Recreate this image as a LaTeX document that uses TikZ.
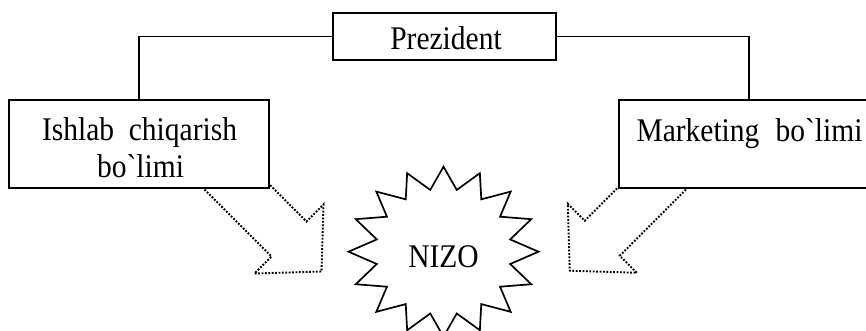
\documentclass[tikz,border=0pt]{standalone}
\usepackage{fontspec}
\setmainfont{Liberation Serif}
% labels are set a little taller than their natural shape
\newcommand{\tall}[1]{\scalebox{1}[1.12]{#1}}
\begin{document}
\begin{tikzpicture}[x=1pt,y=-1pt,
  lbl/.style={font=\fontsize{29.5}{37}\selectfont, inner sep=0pt, anchor=base},
  unit/.style={draw, line width=1.9pt, fill=white, inner sep=0pt},
  link/.style={line width=1.7pt},
  flow/.style={line width=1.9pt, dash pattern=on 1.8pt off 1.6pt, line join=miter},
  burst/.style={line width=1.7pt, line join=miter}]
\clip (0,0) rectangle (866,330);
\fill[white] (0,0) rectangle (866,330);

% dotted block arrows (tails start under the department boxes)
\draw[flow] (192.5,177.5) -- (271.5,256.5) -- (254.5,273.5) -- (321.5,271.5)
  -- (323.5,204.5) -- (306.5,221.5) -- (227.5,142.5);
\draw[flow] (662.75,142.75) -- (584.75,220.75) -- (567.75,203.75) -- (569.75,270.75)
  -- (636.75,272.75) -- (619.75,255.75) -- (697.75,177.75);

% boxes
\node[unit, minimum width=223, minimum height=47] (pres) at (444.5,36.5) {};
\node[unit, minimum width=260, minimum height=88] (prod) at (139,144) {};
\node[unit, minimum width=260, minimum height=88] (mkt) at (749,144) {};

\node[lbl] (prestxt) at (446,49) {\tall{Prezident}};
\node[lbl] (prodtxt1) at (139.5,140) {\tall{Ishlab\hspace{0.5em}chiqarish}};
\node[lbl] (prodtxt2) at (140.5,177) {\tall{bo\textasciigrave limi}};
\node[lbl] (mkttxt) at (749.5,141) {\tall{Marketing\hspace{0.55em}bo\textasciigrave limi}};

% reporting lines
\draw[link] (pres.west) -| (prod.north);
\draw[link] (pres.east) -| (mkt.north);

% sixteen-point burst
\draw[burst, shift={(443.5,251.7)}] (90:95 and 85)
  \foreach \k in {0,...,15} { -- (101.25+22.5*\k:68 and 63) -- (112.5+22.5*\k:95 and 85) } -- cycle;
\node[lbl] (nizo) at (443.5,267) {\tall{NIZO}};
\end{tikzpicture}
\end{document}
